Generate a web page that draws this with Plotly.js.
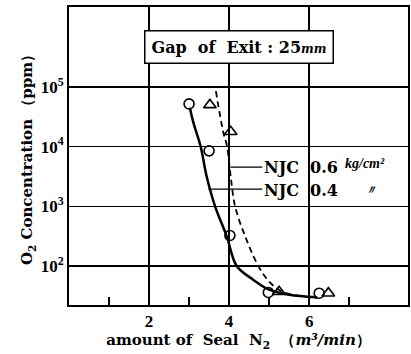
<!DOCTYPE html>
<html>
<head>
<meta charset="utf-8">
<script src="https://cdn.plot.ly/plotly-3.0.1.min.js"></script>
<style>html,body{margin:0;padding:0;background:#fff;}#chart{width:411px;height:354px;}</style>
</head>
<body>
<div id="chart"></div>
<script>
// Measured points
var circleX = [3.0, 3.5, 4.02, 4.98, 6.25];
var circleY = [52000, 8500, 325, 36, 35];
var triangleX = [3.52, 4.04, 5.25, 6.48];
var triangleY = [50000, 17800, 37, 35];

// Fitted curves
var solidX = [3.02, 3.11, 3.29, 3.44, 3.65, 3.94, 4.19, 4.6, 5.0, 5.5, 6.2];
var solidY = [45000, 25000, 10000, 3160, 1000, 316, 100, 59, 40, 33, 30];
var dashedX = [3.67, 3.85, 3.95, 4.04, 4.15, 4.4, 4.73, 5.0, 5.3, 5.8, 6.2];
var dashedY = [85000, 18000, 10000, 3160, 1000, 316, 100, 55, 38, 31, 29];

var xTickVals = [2, 4, 6];
var xTickText = ['<b>2</b>', '<b>4</b>', '<b>6</b>'];
var yTickVals = [100, 1000, 10000, 100000];
var yTickText = ['<b>10<sup>2</sup></b>', '<b>10<sup>3</sup></b>', '<b>10<sup>4</sup></b>', '<b>10<sup>5</sup></b>'];

var F = 'Liberation Serif, Times New Roman, serif';
var W = 'DejaVu Serif, serif';

var traces = [
  {x: solidX, y: solidY, mode: 'lines', line: {color: '#000', width: 2.5, shape: 'spline'}, name: 'NJC 0.4 fit', hoverinfo: 'skip'},
  {x: dashedX, y: dashedY, mode: 'lines', line: {color: '#000', width: 1.8, dash: '6px,4px', shape: 'spline'}, name: 'NJC 0.6 fit', hoverinfo: 'skip'},
  {x: circleX, y: circleY, mode: 'markers', marker: {symbol: 'circle-open', size: 10, color: '#000', line: {width: 1.6, color: '#000'}}, name: 'NJC 0.4'},
  {x: triangleX, y: triangleY, mode: 'markers', marker: {symbol: 'triangle-up-open', size: 11, color: '#000', line: {width: 1.6, color: '#000'}}, name: 'NJC 0.6'}
];

var layout = {
  width: 411, height: 354,
  margin: {l: 69, r: 3, t: 7, b: 49},
  paper_bgcolor: '#fff', plot_bgcolor: '#fff',
  showlegend: false,
  font: {family: F, color: '#000', size: 15},
  xaxis: {
    range: [0, 8.47],
    tickmode: 'array', tickvals: xTickVals, ticktext: xTickText,
    showgrid: true, gridcolor: '#000', gridwidth: 1.5,
    showline: true, mirror: true, linecolor: '#000', linewidth: 2,
    ticks: '', zeroline: false,
    tickfont: {family: F, size: 17},
    minor: {tickmode: 'array', tickvals: [1, 3, 5, 7], ticks: 'inside', ticklen: 8, tickwidth: 1.5, tickcolor: '#000', showgrid: false},
    title: {text: '<b>amount of&nbsp; Seal&nbsp; N<sub>2</sub>&nbsp; （<i>m³/min</i>）</b>', font: {family: W, size: 15}, standoff: 3}
  },
  yaxis: {
    type: 'log',
    range: [1.346, 6.34],
    tickmode: 'array', tickvals: yTickVals, ticktext: yTickText,
    showgrid: true, gridcolor: '#000', gridwidth: 1.5,
    showline: true, mirror: true, linecolor: '#000', linewidth: 2,
    ticks: '', zeroline: false,
    tickfont: {family: F, size: 17},
    title: {text: '<b>O<sub>2</sub> Concentration （ppm）</b>', font: {family: W, size: 15}, standoff: 4}
  },
  shapes: [
    {type: 'line', xref: 'x', yref: 'paper', x0: 4.03, x1: 4.83, y0: 0.463, y1: 0.463, line: {color: '#000', width: 1.3}},
    {type: 'line', xref: 'x', yref: 'paper', x0: 3.48, x1: 4.83, y0: 0.389, y1: 0.389, line: {color: '#000', width: 1.3}}
  ],
  annotations: [
    {xref: 'paper', yref: 'paper', x: 0.5, y: 0.865, xanchor: 'center', yanchor: 'middle', showarrow: false,
     text: '<b>Gap&nbsp; of&nbsp; Exit : 25<i><span style="font-size:12px">mm</span></i></b>', font: {family: W, size: 16},
     bgcolor: '#fff', bordercolor: '#000', borderwidth: 1.5, borderpad: 6},
    {xref: 'x', yref: 'paper', x: 4.83, y: 0.463, xanchor: 'left', yanchor: 'middle', showarrow: false,
     text: '<b>NJC&nbsp; 0.6</b>', font: {family: W, size: 16}},
    {xref: 'x', yref: 'paper', x: 6.85, y: 0.475, xanchor: 'left', yanchor: 'middle', showarrow: false,
     text: '<b><i>kg/cm²</i></b>', font: {family: F, size: 14}},
    {xref: 'x', yref: 'paper', x: 4.83, y: 0.385, xanchor: 'left', yanchor: 'middle', showarrow: false,
     text: '<b>NJC&nbsp; 0.4</b>', font: {family: W, size: 16}},
    {xref: 'x', yref: 'paper', x: 7.35, y: 0.385, xanchor: 'left', yanchor: 'middle', showarrow: false,
     text: '<b><i>〃</i></b>', font: {family: F, size: 12}}
  ]
};

Plotly.newPlot('chart', traces, layout, {displayModeBar: false, staticPlot: true});
</script>
</body>
</html>
